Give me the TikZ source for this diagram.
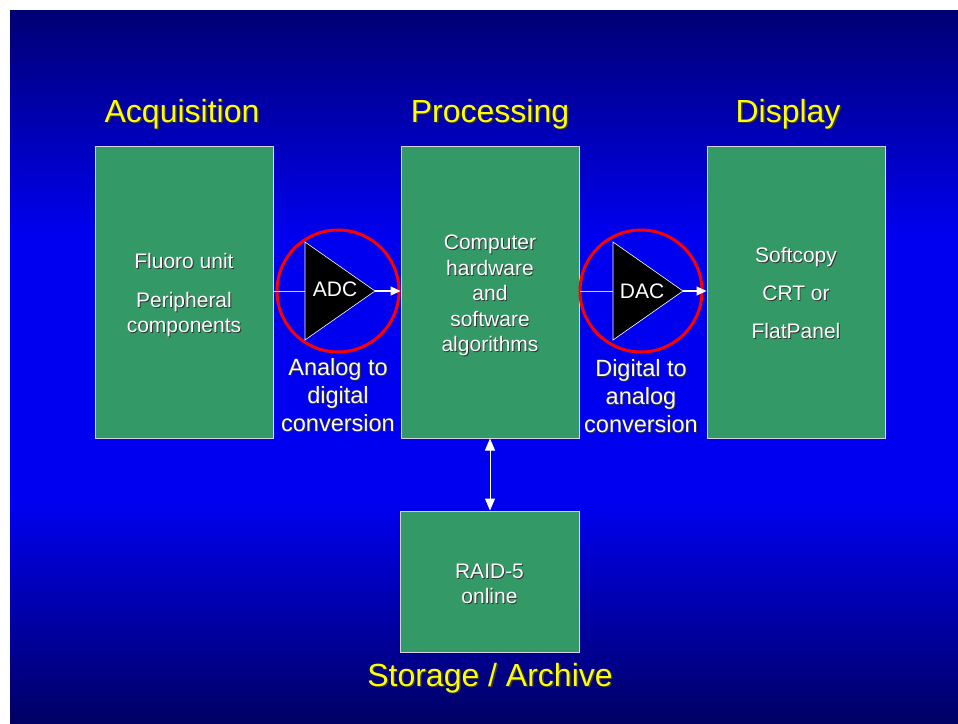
\documentclass[tikz,border=0pt]{standalone}
\usepackage{fontspec}
\setmainfont{Liberation Sans}
\usetikzlibrary{arrows.meta}
\definecolor{slidenavy}{HTML}{000074}
\definecolor{slidenavydeep}{HTML}{000064}
\definecolor{slideblue}{HTML}{0000F0}
\definecolor{stagegreen}{HTML}{339966}
\definecolor{stageedge}{HTML}{D4D4E4}
\definecolor{titleyellow}{HTML}{FFFF00}
\definecolor{ringred}{HTML}{FF0000}
% dark at the edges, bright band through the middle (path maps to 25bp..75bp)
\pgfdeclareverticalshading{slidefade}{100bp}{color(0bp)=(slidenavydeep);
  color(25bp)=(slidenavydeep); color(40.5bp)=(slideblue); color(59bp)=(slideblue);
  color(75bp)=(slidenavy); color(100bp)=(slidenavy)}
\newcommand{\titlefont}{\fontsize{32}{36}\selectfont}
\newcommand{\boxfont}{\fontsize{21}{25.5}\selectfont}
\newcommand{\convfont}{\fontsize{23.5}{28}\selectfont}
\newcommand{\chipfont}{\fontsize{21}{24}\selectfont}
% text with a small dark drop shadow
\newcommand{\shadowed}[3]{\makebox[0pt][l]{\kern#1\raisebox{-#1}{\color{black!80}#3}}{\color{#2}#3}}
\newcommand{\boxline}[1]{\shadowed{0.9pt}{white}{#1}}
\newcommand{\headline}[1]{\shadowed{1.6pt}{titleyellow}{#1}}

\begin{document}
\begin{tikzpicture}[x=1pt,y=-1pt,
  stage/.style={draw=stageedge,line width=1pt,fill=stagegreen,minimum width=178pt,
    minimum height=292pt,inner sep=0pt},
  stagetext/.style={inner sep=0pt,align=center,font=\boxfont},
  heading/.style={anchor=base,inner sep=0pt,font=\titlefont},
  ring/.style={circle,draw=ringred,line width=3pt,minimum size=122pt,inner sep=0pt},
  chip/.style={fill=black,draw=white,line width=0.6pt},
  feed/.style={draw=white!80!blue,line width=1pt},
  link/.style={draw=white,line width=1.2pt},
  conv/.style={inner sep=0pt,align=center,font=\convfont}]
  \useasboundingbox (0,0) rectangle (958,723);

  % slide background
  \fill[white] (0,0) rectangle (958,723);
  \shade[shading=slidefade] (10,10) rectangle (958,723);

  % the three stages and the archive
  \node[stage] (acq) at (184,292) {};
  \node[stage] (proc) at (490,292) {};
  \node[stage] (disp) at (796,292) {};
  \node[stage,minimum width=179pt,minimum height=141pt] (raid) at (489.5,581.5) {};

  \node[stagetext] (acqtext) at ([yshift=-4pt]acq.center)
    {\boxline{Fluoro unit}\\[13pt]\boxline{Peripheral}\\\boxline{components}};
  \node[stagetext] (proctext) at ([yshift=-4pt]proc.center)
    {\boxline{Computer}\\\boxline{hardware}\\\boxline{and}\\\boxline{software}\\\boxline{algorithms}};
  \node[stagetext] (disptext) at ([yshift=-1.5pt]disp.center)
    {\boxline{Softcopy}\\[12.5pt]\boxline{CRT or}\\[12.5pt]\boxline{FlatPanel}};
  \node[stagetext] (raidtext) at ([yshift=-3pt]raid.center)
    {\boxline{RAID-5}\\\boxline{online}};

  \node[heading] (acqtitle) at (182,122) {\headline{Acquisition}};
  \node[heading] (proctitle) at (490,122) {\headline{Processing}};
  \node[heading] (disptitle) at (788,122) {\headline{Display}};
  \node[heading] (storetitle) at (490,686) {\headline{Storage / Archive}};

  % converters
  \node[ring] (adcring) at (338,291) {};
  \node[ring] (dacring) at (641,291) {};

  \coordinate (adcin) at (305,291);
  \coordinate (adcout) at (375,291);
  \coordinate (dacin) at (613,291);
  \coordinate (dacout) at (683,291);

  \draw[feed] (acq.east |- adcin) -- (adcin);
  \draw[feed] (proc.east |- dacin) -- (dacin);
  \draw[chip] (305,242) -- (adcout) -- (305,340) -- cycle;
  \draw[chip] (613,242) -- (dacout) -- (613,340) -- cycle;
  \draw[link,-{Triangle[length=10pt,width=9pt]}] (adcout) -- (proc.west |- adcout);
  \draw[link,-{Triangle[length=10pt,width=9pt]}] (dacout) -- (disp.west |- dacout);

  \node[inner sep=0pt,text=white,font=\chipfont] (adc) at (335,289) {ADC};
  \node[inner sep=0pt,text=white,font=\chipfont] (dac) at (642,291) {DAC};

  \node[conv] (adclabel) at (338,395.5)
    {\boxline{Analog to}\\\boxline{digital}\\\boxline{conversion}};
  \node[conv] (daclabel) at (641,396.5)
    {\boxline{Digital to}\\\boxline{analog}\\\boxline{conversion}};

  % archive link
  \draw[link,line width=1pt,{Triangle[length=12pt,width=10pt]}-{Triangle[length=12pt,width=10pt]}]
    (proc.south) -- (proc.south |- raid.north);
\end{tikzpicture}
\end{document}
